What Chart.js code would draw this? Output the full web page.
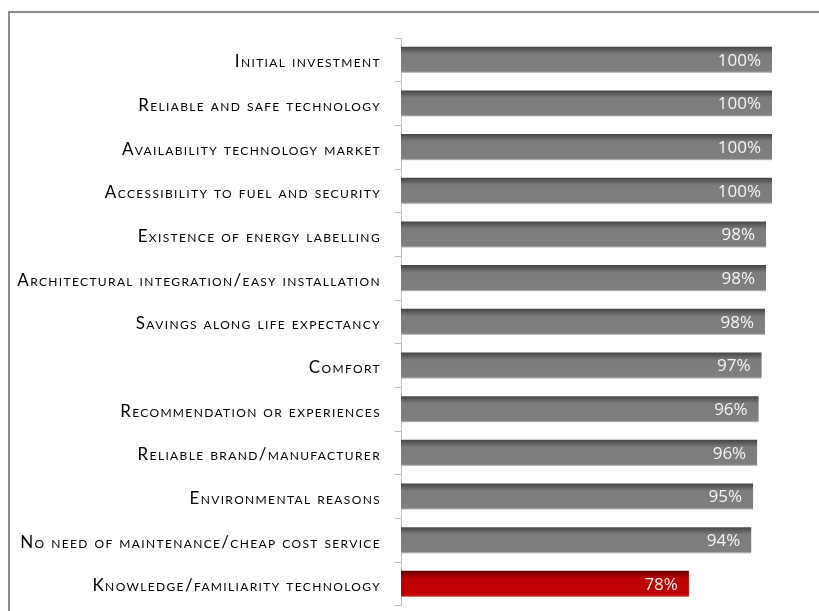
<!DOCTYPE html>
<html>
<head>
<meta charset="utf-8">
<script src="https://cdn.jsdelivr.net/npm/chart.js@4"></script>
<style>
  html, body { margin: 0; padding: 0; background: #fff; overflow: hidden; }
  #wrap { position: relative; width: 819px; height: 611px; overflow: hidden; }
  #frame { position: absolute; left: 8px; top: 11px; width: 900px; height: 700px;
           border: 2px solid #8c8c8c; box-sizing: border-box; }
  #factorsChart { position: absolute; left: 0; top: 0; }
</style>
</head>
<body>
<div id="wrap">
  <div id="frame"></div>
  <canvas id="factorsChart" width="819" height="630"></canvas>
</div>
<script>
// Factors in the purchase decision

const factors = [
  'Initial investment',
  'Reliable and safe technology',
  'Availability technology market',
  'Accessibility to fuel and security',
  'Existence of energy labelling',
  'Architectural integration/easy installation',
  'Savings along life expectancy',
  'Comfort',
  'Recommendation or experiences',
  'Reliable brand/manufacturer',
  'Environmental reasons',
  'No need of maintenance/cheap cost service',
  'Knowledge/familiarity technology'
];
const shares = [100, 100, 100, 100, 98.4, 98.4, 98.1, 97.2, 96.4, 96.0, 94.9, 94.4, 77.6];
const highlighted = [false, false, false, false, false, false, false, false, false, false, false, false, true];

// wider tracking for the category labels (set before scales draw, reset before bars)
const labelSpacing = {
  id: 'labelSpacing',
  beforeDraw(chart) {
    chart.ctx.letterSpacing = '1.35px';
    chart.ctx.wordSpacing = '0px';
  },
  beforeDatasetsDraw(chart) {
    chart.ctx.letterSpacing = '0px';
  }
};

// bar shading: dark top edge, light bottom line
const barShading = {
  id: 'barShading',
  beforeDatasetsDraw(chart) {
    const ctx = chart.ctx;
    chart.getDatasetMeta(0).data.forEach(function (bar, i) {
      const top = bar.y - bar.height / 2;
      const bottom = bar.y + bar.height / 2;
      const g = ctx.createLinearGradient(0, top, 0, bottom);
      if (highlighted[i]) {
        g.addColorStop(0, '#640000');
        g.addColorStop(0.28, '#bd0000');
        g.addColorStop(0.93, '#c00000');
        g.addColorStop(1, '#e4a0a0');
      } else {
        g.addColorStop(0, '#444444');
        g.addColorStop(0.28, '#7c7c7c');
        g.addColorStop(0.93, '#7f7f7f');
        g.addColorStop(1, '#cfcfcf');
      }
      bar.options = Object.assign({}, bar.options, { backgroundColor: g });
    });
  }
};

// percentage labels inside the bar end
const valueLabels = {
  id: 'valueLabels',
  afterDatasetsDraw(chart) {
    const ctx = chart.ctx;
    ctx.save();
    ctx.font = '17px "Open Sans"';
    ctx.fillStyle = '#f4f4f4';
    ctx.textAlign = 'right';
    ctx.textBaseline = 'middle';
    chart.getDatasetMeta(0).data.forEach(function (bar, i) {
      ctx.fillText(Math.round(shares[i]) + '%', bar.x - 11, bar.y + 1);
    });
    ctx.restore();
  }
};

document.addEventListener("DOMContentLoaded", function () {

  const data = {
    labels: factors,
    datasets: [{
      label: 'Importance',
      data: shares,
      backgroundColor: '#7f7f7f',
      borderWidth: 0,
      categoryPercentage: 1,
      barPercentage: 0.6
    }]
  };

  const config = {
    type: 'bar',
    data,
    options: {
      indexAxis: 'y',
      responsive: false,
      animation: false,
      layout: { padding: { top: 38, right: 47, bottom: 11, left: 0 } },
      scales: {
        x: { display: false, min: 0, max: 100 },
        y: {
          afterFit: function (scale) { scale.width = 401; },
          border: { color: '#bfbfbf', width: 1 },
          grid: { drawOnChartArea: false, tickLength: 6, color: '#bfbfbf', offset: true },
          ticks: {
            padding: 14,
            labelOffset: 2,
            color: '#000',
            font: { family: 'Lato', size: 17, weight: 'small-caps' }
          }
        }
      },
      plugins: {
        legend: { display: false },
        tooltip: { enabled: false }
      }
    },
    plugins: [labelSpacing, barShading, valueLabels]
  };

  new Chart(
    document.getElementById('factorsChart'),
    config
  );
})
</script>
</body>
</html>
